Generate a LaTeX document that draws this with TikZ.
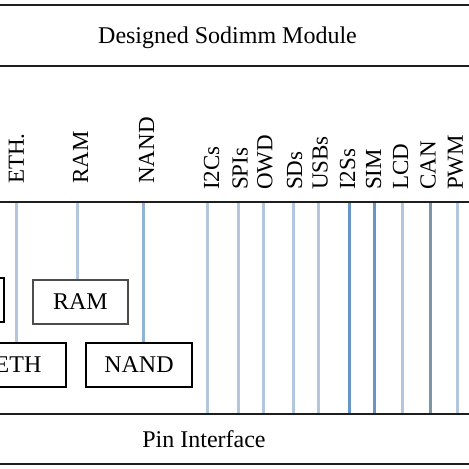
\documentclass[tikz,border=0pt]{standalone}
\usepackage{fontspec}
\setmainfont{Liberation Serif}
\definecolor{wirelight}{HTML}{B2C6DE}
\definecolor{wiremid}{HTML}{8FB2D6}
\definecolor{wiredark}{HTML}{6896C4}
\definecolor{wiregray}{HTML}{7A96A8}
\definecolor{barcol}{HTML}{1E1E1E}
\tikzset{
  bar/.style={draw=barcol, line width=2pt},
  wire/.style={line width=3pt, draw=wirelight},
  blockbox/.style={draw=black, line width=2pt, minimum height=44pt, inner sep=0pt,
    font=\fontsize{24}{28}\selectfont, fill=white},
  vlabel/.style={rotate=90, anchor=west, inner sep=0pt, font=\fontsize{23}{27}\selectfont},
  bigtext/.style={inner sep=0pt, anchor=base, font=\fontsize{24}{28}\selectfont}
}
\begin{document}
\begin{tikzpicture}[x=1pt,y=-1pt]
\useasboundingbox (0,0) rectangle (469,469);
\clip (0,0) rectangle (469,469);
\fill[white] (0,0) rectangle (469,469);

% horizontal bars
\coordinate (b1l) at (-5,5);   \coordinate (b1r) at (474,5);
\coordinate (b2l) at (-5,66);  \coordinate (b2r) at (474,66);
\coordinate (b3l) at (-5,202); \coordinate (b3r) at (474,202);
\coordinate (b4l) at (-5,414); \coordinate (b4r) at (474,414);
\coordinate (b5l) at (-5,464); \coordinate (b5r) at (474,464);

% titles
\node[bigtext] (title) at (227.5,43) {Designed Sodimm Module};
\node[bigtext] (pin) at (204,447) {Pin Interface};

% boxes
\node[blockbox, minimum width=95pt] (leftbox) at (-43.5,300) {};
\node[blockbox, minimum width=95pt, draw=black!70] (rambox) at (80.5,302) {RAM};
\node[blockbox, minimum width=96pt] (ethbox) at (18,365) {ETH};
\node[blockbox, minimum width=106pt] (nandbox) at (139,365) {NAND};

% vertical labels
\node[vlabel] (lEth)  at (16.5,184) {ETH.};
\node[vlabel] (lRam)  at (80.5,184) {RAM};
\node[vlabel] (lNand) at (146.5,184) {NAND};
\node[vlabel] (lI2c)  at (211.5,190) {I2Cs};
\node[vlabel] (lSpi)  at (240,190) {SPIs};
\node[vlabel] (lOwd)  at (265,190) {OWD};
\node[vlabel] (lSd)   at (294.5,190) {SDs};
\node[vlabel] (lUsb)  at (320,190) {USBs};
\node[vlabel] (lI2s)  at (347.5,190) {I2Ss};
\node[vlabel] (lSim)  at (373.5,190) {SIM};
\node[vlabel] (lLcd)  at (400.5,190) {LCD};
\node[vlabel] (lCan)  at (428,190) {CAN};
\node[vlabel] (lPwm)  at (455.5,190) {PWM};

% wires to boxes
\coordinate (wEth) at (16,202);
\coordinate (wRam) at (77,202);
\coordinate (wNand) at (143.5,202);
\draw[wire] (wEth) -- (wEth |- ethbox.north);
\draw[wire] (wRam) -- (wRam |- rambox.north);
\draw[wire, draw=wiremid] (wNand) -- (wNand |- nandbox.north);

% wires to pin interface
\foreach \nm/\xx/\cc in {I2c/207/wirelight, Spi/238/wirelight, Owd/263.5/wirelight,
  Sd/293/wirelight, Usb/318/wirelight, I2s/349/wiredark, Sim/374/wiredark,
  Lcd/402/wirelight, Can/430/wiregray, Pwm/457/wirelight}{
  \coordinate (t\nm) at (\xx,202);
  \coordinate (p\nm) at (\xx,414);
  \draw[wire, draw=\cc] (t\nm) -- (p\nm);
}

% bars drawn on top
\draw[bar] (b1l) -- (b1r);
\draw[bar] (b2l) -- (b2r);
\draw[bar] (b3l) -- (b3r);
\draw[bar] (b4l) -- (b4r);
\draw[bar] (b5l) -- (b5r);
\end{tikzpicture}
\end{document}
